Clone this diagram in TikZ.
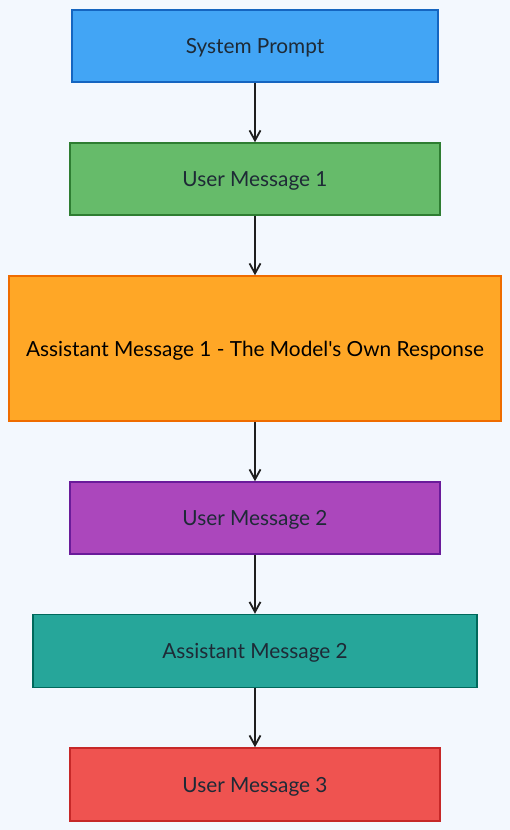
\documentclass[tikz,border=0pt]{standalone}
\usepackage{fontspec}
\setmainfont{Lato}[Ligatures=TeXOff]
\usetikzlibrary{arrows.meta}
\definecolor{bgc}{HTML}{F3F8FE}
\definecolor{txt}{HTML}{1E2A36}
\definecolor{arr}{HTML}{1E1E1E}
\definecolor{bluef}{HTML}{42A5F5}\definecolor{blued}{HTML}{1565C0}
\definecolor{greenf}{HTML}{66BB6A}\definecolor{greend}{HTML}{2E7D32}
\definecolor{orangef}{HTML}{FFA726}\definecolor{oranged}{HTML}{EF6C00}
\definecolor{purplef}{HTML}{AB47BC}\definecolor{purpled}{HTML}{6A1B9A}
\definecolor{tealf}{HTML}{26A69A}\definecolor{teald}{HTML}{00695C}
\definecolor{redf}{HTML}{EF5350}\definecolor{redd}{HTML}{C62828}
\begin{document}
\begin{tikzpicture}[x=1pt,y=-1pt,
  msgbox/.style={rectangle, draw, line width=1.5pt, inner sep=0pt, text=txt,
    font=\fontsize{20.8}{24}\selectfont, minimum height=72pt,
    text height=15pt, text depth=0pt},
  flow/.style={draw=arr, line width=2.2pt, -{Straight Barb[length=10pt,width=11pt,line width=1.8pt]}}]
\fill[bgc] (0,0) rectangle (510,830);
\useasboundingbox (0,0) rectangle (510,830);
\node[msgbox, fill=bluef, draw=blued, minimum width=366pt] (sys) at (255,46) {System Prompt};
\node[msgbox, fill=greenf, draw=greend, minimum width=370pt] (u1) at (255,179) {User Message 1};
\node[msgbox, fill=orangef, draw=oranged, minimum width=492pt, minimum height=145pt, text=black] (a1) at (255,348.5) {Assistant Message 1 - The Model's Own Response};
\node[msgbox, fill=purplef, draw=purpled, minimum width=370pt] (u2) at (255,518) {User Message 2};
\node[msgbox, fill=tealf, draw=teald, minimum width=444pt, minimum height=73pt] (a2) at (255,651) {Assistant Message 2};
\node[msgbox, fill=redf, draw=redd, minimum width=370pt, minimum height=73pt] (u3) at (255,784.5) {User Message 3};
\draw[flow] (sys.south) -- (u1.north);
\draw[flow] (u1.south) -- (a1.north);
\draw[flow] (a1.south) -- (u2.north);
\draw[flow] (u2.south) -- (a2.north);
\draw[flow] (a2.south) -- (u3.north);
\end{tikzpicture}
\end{document}
